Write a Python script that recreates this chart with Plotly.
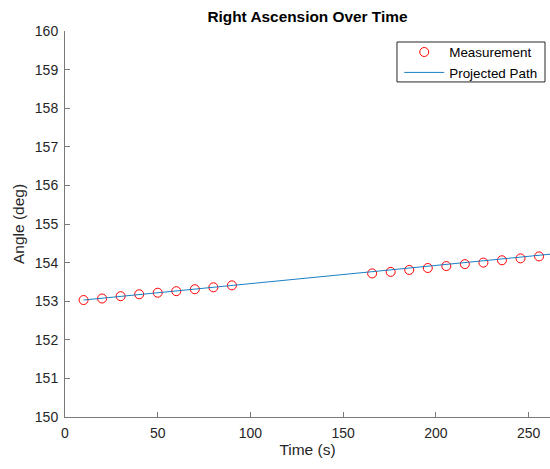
import plotly.graph_objects as go

# Measured right ascension (two observation passes)
meas_time = [10, 20, 30, 40, 50, 60, 70, 80, 90,
             165.6, 175.6, 185.6, 195.6, 205.6, 215.6, 225.6, 235.6, 245.6, 255.6]
meas_angle = [153.03, 153.07, 153.13, 153.18, 153.22, 153.26, 153.31, 153.36, 153.41,
              153.72, 153.76, 153.81, 153.86, 153.91, 153.96, 154.00, 154.06, 154.11, 154.16]

# Projected path (linear)
path_time = [10, 262]
path_angle = [153.03, 154.22]

x_ticks = [0, 50, 100, 150, 200, 250]
y_ticks = [150, 151, 152, 153, 154, 155, 156, 157, 158, 159, 160]

FONT = "Liberation Sans, Arial, Helvetica, sans-serif"
AX = "#262626"

fig = go.Figure()
fig.add_trace(go.Scatter(
    x=meas_time, y=meas_angle, mode="markers", name="Measurement",
    marker=dict(symbol="circle-open", size=9, color="#FF0000", line=dict(width=1, color="#FF0000")),
))
fig.add_trace(go.Scatter(
    x=path_time, y=path_angle, mode="lines", name="Projected Path",
    line=dict(color="#0072BD", width=0.9),
))

axis_common = dict(
    showgrid=False, zeroline=False, showline=True, linecolor="#7a7a7a", linewidth=1,
    ticks="inside", ticklen=5, tickcolor="#7a7a7a", tickwidth=1,
    tickfont=dict(family=FONT, size=14, color=AX), mirror=False,
)

# legend frame
fig.add_shape(type="rect", xref="paper", yref="paper",
              x0=0.6845, x1=0.9897, y0=0.868, y1=0.9715,
              line=dict(color="#262626", width=1), fillcolor="white", layer="above")

fig.update_layout(
    width=550, height=469,
    margin=dict(l=65, r=0, t=31, b=52),
    paper_bgcolor="white", plot_bgcolor="white",
    font=dict(family=FONT, color=AX),
    title=dict(text="<b>Right Ascension Over Time</b>", x=0.559, xanchor="center",
               y=1 - 17 / 469, yanchor="middle", font=dict(family=FONT, size=15.4, color="#000000")),
    xaxis=dict(range=[0, 261.5], tickvals=x_ticks, ticklabelstandoff=3,
               title=dict(text="Time (s)", font=dict(family=FONT, size=15.5, color=AX), standoff=2),
               **axis_common),
    yaxis=dict(range=[150, 160], tickvals=y_ticks, ticklabelstandoff=3,
               title=dict(text="Angle (deg)", font=dict(family=FONT, size=15.5, color=AX), standoff=6),
               **axis_common),
    showlegend=True,
    legend=dict(x=0.984, xanchor="right", y=0.985, yanchor="top",
                bgcolor="rgba(0,0,0,0)", borderwidth=0,
                font=dict(family=FONT, size=13.4, color="#000000"),
                tracegroupgap=0, itemwidth=40),
)

fig.write_html("out.html")
